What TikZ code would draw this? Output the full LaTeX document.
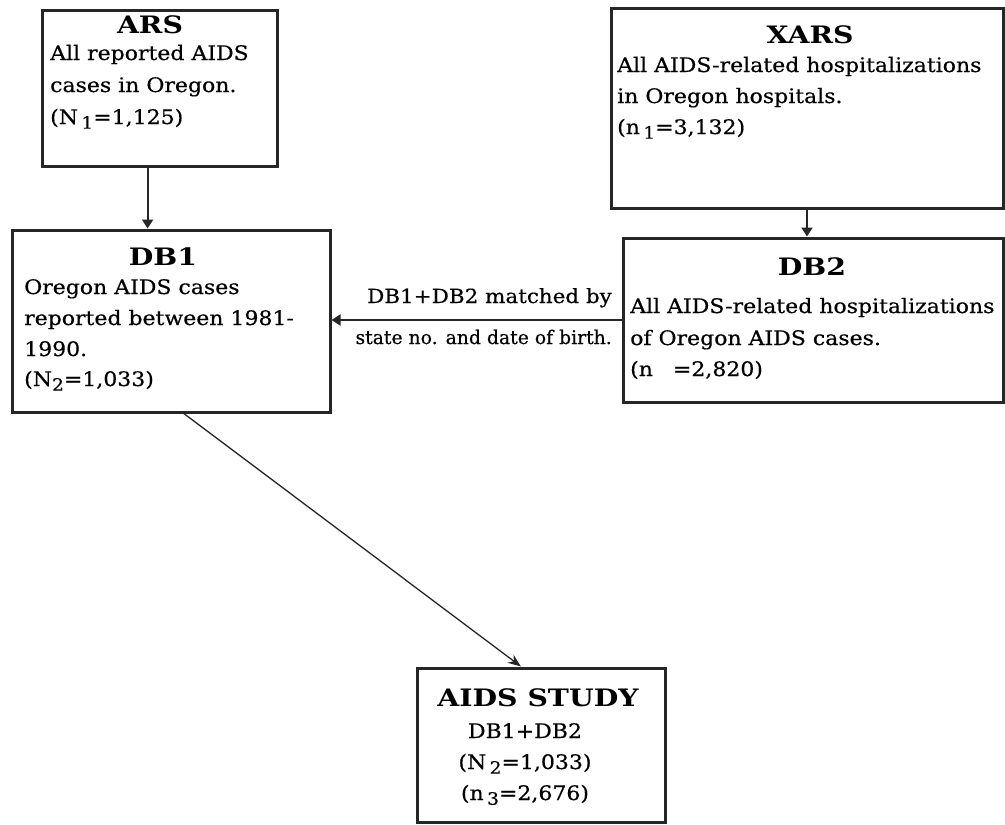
\documentclass[tikz,border=0pt]{standalone}
\usepackage{fontspec}
\setmainfont[FakeStretch=1.1,FakeBold=0.5]{DejaVu Serif}
\newfontfamily\ttlfont[FakeStretch=1.18]{DejaVu Serif}
\newfontfamily\lblfont[FakeBold=0.5]{DejaVu Serif}
\usetikzlibrary{arrows.meta,calc}
\newcommand{\lowsub}[1]{\raisebox{-0.45ex}{\fontsize{17}{17}\selectfont #1}}
\tikzset{
  box/.style={draw=black!85, line width=3pt, inner sep=0pt},
  ttl/.style={font=\fontsize{24}{24}\selectfont\ttlfont\bfseries, inner sep=0pt, text height=17pt, text depth=0pt},
  txt/.style={font=\fontsize{20}{20}\selectfont, inner sep=0pt, anchor=west, text height=15pt, text depth=5pt},
  lbl/.style={inner sep=0pt, anchor=east, text height=14pt, text depth=4pt},
  arr/.style={line width=2pt, draw=black!85, -{Triangle[length=9pt,width=11pt]}},
  thin arr/.style={line width=1.3pt, draw=black!85, -{Stealth[length=13pt,width=10pt]}}
}
\begin{document}
\begin{tikzpicture}[x=1pt,y=-1pt]
\useasboundingbox (0,0) rectangle (1005,825);
% boxes
\node[box, minimum width=235pt, minimum height=156pt] (ars) at (159.5,88) {};
\node[box, minimum width=392pt, minimum height=200pt] (xars) at (807,108) {};
\node[box, minimum width=318pt, minimum height=182pt] (db1) at (171,321) {};
\node[box, minimum width=380pt, minimum height=164pt] (db2) at (813,320) {};
\node[box, minimum width=248pt, minimum height=154pt] (study) at (541,745) {};
% ARS text
\node[ttl] (arsT) at (150,25) {ARS};
\node[txt] (ars1) at (50,55) {All reported AIDS};
\node[txt] (ars2) at (50,87) {cases in Oregon.};
\node[txt] (ars3) at (50,119) {(N\,\lowsub{1}=1,125)};
% XARS text
\node[ttl] (xarsT) at (810,35) {XARS};
\node[txt] (xars1) at (617,67) {All AIDS-related hospitalizations};
\node[txt] (xars2) at (617,98) {in Oregon hospitals.};
\node[txt] (xars3) at (617,129) {(n\,\lowsub{1}=3,132)};
% DB1 text
\node[ttl] (db1T) at (163,257) {DB1};
\node[txt] (db11) at (24,289) {Oregon AIDS cases};
\node[txt] (db12) at (24,320) {reported between 1981-};
\node[txt] (db13) at (24,351) {1990.};
\node[txt] (db14) at (24,381) {(N\lowsub{2}=1,033)};
% DB2 text
\node[ttl] (db2T) at (812,267) {DB2};
\node[txt] (db21) at (630,308) {All AIDS-related hospitalizations};
\node[txt] (db22) at (630,340) {of Oregon AIDS cases.};
\node[txt] (db23) at (630,371) {(n\hspace{1em}=2,820)};
% STUDY text
\node[ttl] (stT) at (538,698) {AIDS STUDY};
\node[txt, anchor=center] (st1) at (525,733) {DB1+DB2};
\node[txt, anchor=center] (st2) at (525,764) {(N\,\lowsub{2}=1,033)};
\node[txt, anchor=center] (st3) at (525,795) {(n\,\lowsub{3}=2,676)};
% match label
\node[lbl, font=\fontsize{19.5}{19.5}\selectfont] (m1) at (612,298) {DB1+DB2 matched by};
\node[lbl, font=\fontsize{18.8}{18.8}\selectfont\lblfont] (m2) at (612,339) {state no. and date of birth.};
% connectors
\coordinate (a1) at ($(ars.south west)!0.45!(ars.south east)$);
\draw[arr] (a1) -- (a1 |- db1.north);
\draw[arr] (xars.south) -- (xars.south |- db2.north);
\draw[arr] (db2.west) -- (db2.west -| db1.east);
\coordinate (d1) at ($(db1.south west)!0.54!(db1.south east)$);
\coordinate (s1) at ($(study.north west)!0.42!(study.north east)$);
\draw[thin arr] (d1) -- (s1);
\end{tikzpicture}
\end{document}
